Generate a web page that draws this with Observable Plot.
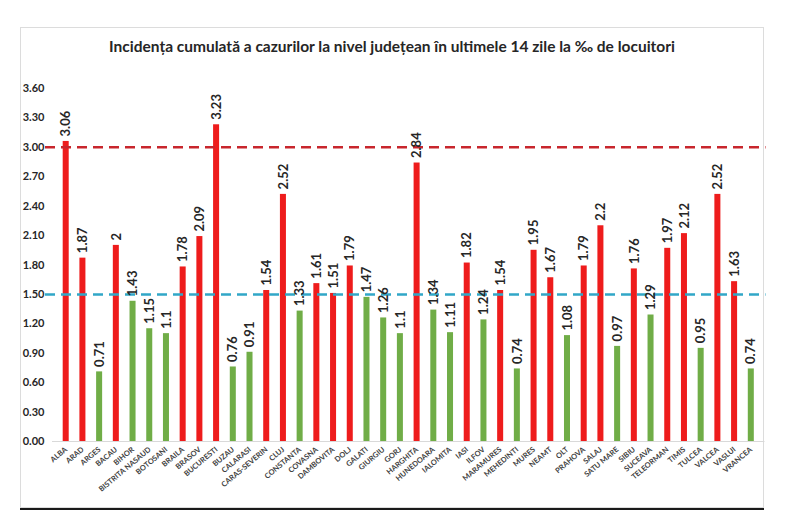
<!DOCTYPE html>
<html><head><meta charset="utf-8">
<script src="https://cdn.jsdelivr.net/npm/d3@7"></script>
<script src="https://cdn.jsdelivr.net/npm/@observablehq/plot@0.6"></script>
<style>
body{margin:0;background:#fff;}
#wrap{position:relative;width:800px;height:521px;overflow:hidden;font-family:Lato,"Open Sans",sans-serif;}
#frame{position:absolute;left:20px;top:27px;width:744px;height:481px;border:1px solid #dcdcdc;box-sizing:border-box;}
#bottom{position:absolute;left:20px;top:508px;width:744px;height:2px;background:#1a1a1a;}
#title{position:absolute;left:0;top:37px;width:784px;text-align:center;font-weight:bold;font-size:15.5px;color:#262626;}
#chart{position:absolute;left:0;top:0;}
</style></head>
<body>
<div id="wrap">
  <div id="frame"></div>
  <div id="bottom"></div>
  <div id="chart"></div>
  <div id="title">Incidența cumulată a cazurilor la nivel județean în ultimele 14 zile la ‰ de locuitori</div>
</div>
<script>
const counties = ["ALBA","ARAD","ARGES","BACAU","BIHOR","BISTRITA NASAUD","BOTOSANI","BRAILA","BRASOV","BUCURESTI","BUZAU","CALARASI","CARAS-SEVERIN","CLUJ","CONSTANTA","COVASNA","DAMBOVITA","DOLJ","GALATI","GIURGIU","GORJ","HARGHITA","HUNEDOARA","IALOMITA","IASI","ILFOV","MARAMURES","MEHEDINTI","MURES","NEAMT","OLT","PRAHOVA","SALAJ","SATU MARE","SIBIU","SUCEAVA","TELEORMAN","TIMIS","TULCEA","VALCEA","VASLUI","VRANCEA"];
const values = [3.06,1.87,0.71,2,1.43,1.15,1.1,1.78,2.09,3.23,0.76,0.91,1.54,2.52,1.33,1.61,1.51,1.79,1.47,1.26,1.1,2.84,1.34,1.11,1.82,1.24,1.54,0.74,1.95,1.67,1.08,1.79,2.2,0.97,1.76,1.29,1.97,2.12,0.95,2.52,1.63,0.74];
const yTicks = [0,0.3,0.6,0.9,1.2,1.5,1.8,2.1,2.4,2.7,3.0,3.3,3.6];
const upperThreshold = [3.0];
const lowerThreshold = [1.5];

const data = counties.map((c, i) => ({county: c, value: values[i]}));
const fmt = d3.format(".2f");

const chart = Plot.plot({
  width: 800, height: 521,
  marginLeft: 52, marginRight: 35.5, marginTop: 88, marginBottom: 80,
  style: {fontFamily: "Lato, 'Open Sans', sans-serif", fontWeight: "bold", background: "transparent", overflow: "visible"},
  x: {domain: counties, padding: 0.64, round: false, label: null},
  y: {domain: [0, 3.6], label: null},
  marks: [
    Plot.axisY({ticks: yTicks, tickFormat: fmt, tickSize: 0, tickPadding: 8, fontSize: 11, label: null, color: "#262626"}),
    Plot.axisX({tickRotate: -40, tickSize: 0, tickPadding: 7, fontSize: 7.5, label: null, color: "#404040"}),
    Plot.ruleY([0], {stroke: "#d9d9d9"}),
    Plot.barY(data, {x: "county", y: "value", fill: d => d.value > lowerThreshold[0] ? "#ee1c1c" : "#70ad47"}),
    Plot.ruleY(upperThreshold, {stroke: "#c8262d", strokeWidth: 2.5, strokeDasharray: "10,6", insetLeft: -7, insetRight: -1}),
    Plot.ruleY(lowerThreshold, {stroke: "#31a7c7", strokeWidth: 2.5, strokeDasharray: "10,6", insetLeft: -7, insetRight: -1}),
    Plot.text(data, {x: "county", y: "value", text: d => String(d.value), rotate: -90, textAnchor: "start", dy: -5, fontSize: 13, fill: "#262626"})
  ]
});
document.getElementById("chart").appendChild(chart);
</script>
</body></html>
